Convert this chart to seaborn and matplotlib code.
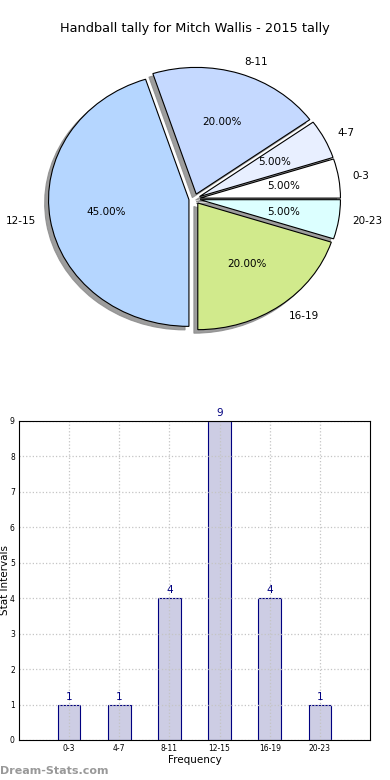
import numpy as np
import pandas as pd
import matplotlib as mpl
mpl.use("Agg")
import matplotlib.pyplot as plt
import seaborn as sns

# data
intervals = ["0-3", "4-7", "8-11", "12-15", "16-19", "20-23"]
counts = [1, 1, 4, 9, 4, 1]
pie_colors = ["#ffffff", "#e8efff", "#c5d9ff", "#b5d6ff", "#d1ea8c", "#dcffff"]
title = "Handball tally for Mitch Wallis - 2015 tally"

sns.set_theme(style="white")
plt.rcParams["font.family"] = ["DejaVu Sans"]
plt.rcParams["text.color"] = "black"
plt.rcParams["axes.labelcolor"] = "black"
plt.rcParams["xtick.color"] = "black"
plt.rcParams["ytick.color"] = "black"

fig = plt.figure(figsize=(3.9, 7.8), dpi=100)

# pie on top
ax1 = fig.add_axes([0.0487, 0.542, 0.9, 0.406])
ax1.pie(
    counts,
    labels=intervals,
    colors=pie_colors,
    explode=[0.04] * len(counts),
    autopct="%.2f%%",
    shadow={"ox": -0.02, "oy": -0.02, "facecolor": "#8c8c8c",
            "edgecolor": "#8c8c8c", "alpha": 0.85},
    startangle=0,
    wedgeprops={"edgecolor": "black", "linewidth": 0.8},
    textprops={"fontsize": 7.5, "color": "black"},
)
ax1.set_aspect("auto")
ax1.set_xlim(-1.25, 1.25)
ax1.set_ylim(-1.25, 1.25)
ax1.set_title(title, fontsize=9.3, pad=6, color="black")

# bars below
df = pd.DataFrame({"interval": intervals, "count": counts})
ax2 = fig.add_axes([0.0487, 0.0513, 0.9, 0.409])
sns.barplot(
    data=df, x="interval", y="count", order=intervals,
    color="#cdcde4", saturation=1, edgecolor="#000080",
    linewidth=0.8, width=0.45, ax=ax2,
)
ax2.set_xlim(-1, 6)
ax2.set_ylim(0, 9)
ax2.set_yticks(range(10))
ax2.grid(True, color="#c4c4c4", linestyle=":", linewidth=0.9)
ax2.set_axisbelow(False)
for s in ax2.spines.values():
    s.set_color("black")
    s.set_linewidth(0.8)
    s.set_zorder(4)
ax2.tick_params(labelsize=5.5, direction="in", length=2, pad=3)
ax2.bar_label(ax2.containers[0], color="#000080", fontsize=7.5, padding=2)
ax2.set_xlabel("Frequency", fontsize=7.5, labelpad=1)
ax2.set_ylabel("Stat Intervals", fontsize=7.5, labelpad=0)

fig.text(0.0, 0.005, "Dream-Stats.com", color="#999999", fontsize=8,
         fontweight="bold", ha="left", va="bottom")

fig.savefig("out.png", dpi=100)
